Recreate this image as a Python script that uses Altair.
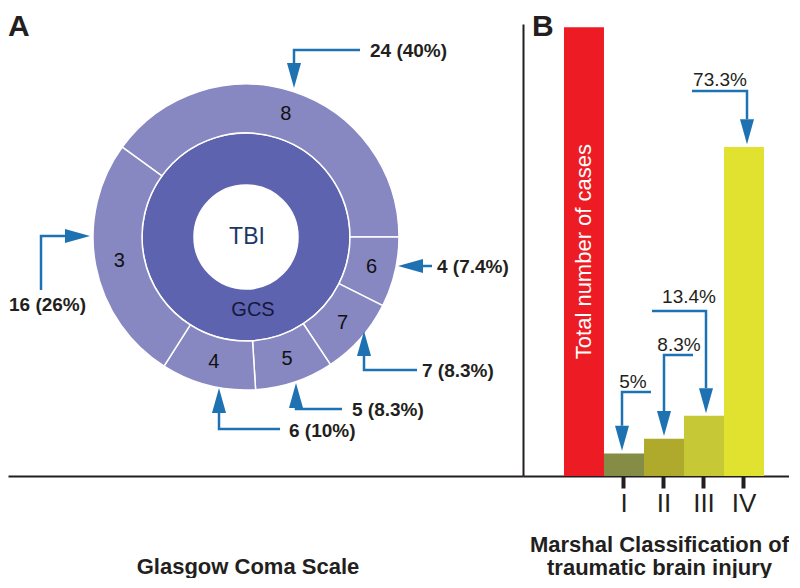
import math
import altair as alt
import pandas as pd

# ---------------- data ----------------
# Panel A: Glasgow Coma Scale (outer ring, clockwise from the top-left)
gcs_scores = ["8", "6", "7", "5", "4", "3"]
gcs_counts = [24, 4, 7, 5, 6, 16]
gcs_pct_text = ["40%", "7.4%", "8.3%", "8.3%", "10%", "26%"]
gcs_pct = [40, 7.4, 8.3, 8.3, 10, 26]

# Panel B: Marshal classification
marshal_classes = ["Total", "I", "II", "III", "IV"]
marshal_values = [100, 5, 8.3, 13.4, 73.3]
marshal_colors = ["#ED1C24", "#858C45", "#AFAA2B", "#C6C935", "#E0E22F"]
total_label = "Total number of cases"

# ---------------- styling / layout ----------------
INK = "#231F20"
BLUE = "#1F72B1"
OUTER = "#8787C1"
INNER = "#5D63AE"
FONT = "Liberation Sans"
NARROW = "Liberation Sans Narrow, Arial Narrow, Liberation Sans"

W_L, W_R, H = 515, 266, 468
CX, CY = 238, 229          # donut centre inside panel A (px)
A0 = math.radians(306)     # start angle of the outer ring
ARROW = "M0,0L-0.56,-2L0.56,-2Z"   # arrow head, tip at the origin, pointing down

# annotation geometry, panel A (px relative to donut centre)
a_paths = [
    [(114, -187), (48, -187), (48, -174)],
    [(186, 29), (177, 29)],
    [(171, 133), (118, 133), (118, 119)],
    [(96, 172), (50, 172), (50, 171)],
    [(34, 192), (-27, 192), (-27, 176)],
    [(-205, 53), (-205, -1), (-181, -1)],
]
a_tips = [(48, -149, 0), (152, 29, 90), (118, 94, 180), (50, 146, 180), (-27, 151, 180), (-156, -1, 270)]
a_label_pos = [(124, -186), (191, 30), (176, 134), (106, 173), (43, 194), (-237, 68)]

# annotation geometry, panel B (bar-index units, percent units)
b_start = [(1.675, 18.7), (2.725, 26.96), (1.7, 36.76), (2.7, 85.77)]
b_arrow_x = [0.95, 2.0, 3.05, 4.075]
b_label_pos = [(1.225, 20.9), (2.375, 29.2), (2.625, 39.88), (3.4, 88.2)]

Y_TOP = 100.7
PX_PER = (H - 16) / Y_TOP

# ---------------- panel A ----------------
xa = alt.Scale(domain=[-CX, W_L - CX], nice=False, zero=False)
ya = alt.Scale(domain=[H - CY, -CY], nice=False, zero=False)
axisA = alt.Axis(domain=True, domainColor=INK, domainWidth=2, ticks=False, labels=False,
                 grid=False, title="Glasgow Coma Scale", titleFont=FONT, titleFontSize=22,
                 titleFontWeight="bold", titleColor=INK, titleX=239.5, titleY=97,
                 titleBaseline="alphabetic", titleAlign="center")


def XA():
    return alt.X("x:Q", scale=xa, axis=axisA)


def YA():
    return alt.Y("y:Q", scale=ya, axis=None)


seg = pd.DataFrame({"score": gcs_scores, "pct": gcs_pct, "k": list(range(len(gcs_scores)))})
theta = alt.Theta("pct:Q", stack=True, scale=alt.Scale(range=[A0, A0 + 2 * math.pi]))

inner = alt.Chart(pd.DataFrame({"r": [1]})).mark_arc(
    innerRadius=52, outerRadius=104, theta=0, theta2=2 * math.pi,
    color=INNER, stroke="white", strokeWidth=1.5
).encode(x=alt.value(CX), y=alt.value(CY))

outer = alt.Chart(seg).mark_arc(
    innerRadius=104, outerRadius=153, color=OUTER, stroke="white", strokeWidth=1.5
).encode(theta=theta, order=alt.Order("k:Q"), x=alt.value(CX), y=alt.value(CY))

seg_txt = alt.Chart(seg).mark_text(
    radius=129, font=FONT, fontSize=20, color="#111111"
).encode(theta=theta, order=alt.Order("k:Q"), text="score:N", x=alt.value(CX), y=alt.value(CY))

rows = []
for i, path in enumerate(a_paths):
    for j, (px, py) in enumerate(path):
        rows.append({"id": i, "step": j, "x": px, "y": py})
a_lines = alt.Chart(pd.DataFrame(rows)).mark_line(
    color=BLUE, strokeWidth=2.5, strokeJoin="miter", strokeCap="butt"
).encode(x=XA(), y=YA(), detail="id:N", order="step:Q")

a_heads = alt.Chart(pd.DataFrame({
    "x": [t[0] for t in a_tips], "y": [t[1] for t in a_tips], "ang": [t[2] for t in a_tips]
})).mark_point(shape=ARROW, size=625, filled=True, color=BLUE, opacity=1, strokeWidth=0).encode(
    x=XA(), y=YA(), angle=alt.Angle("ang:Q", scale=None))

a_lab = alt.Chart(pd.DataFrame({
    "x": [p[0] for p in a_label_pos], "y": [p[1] for p in a_label_pos],
    "t": [f"{c} ({p})" for c, p in zip(gcs_counts, gcs_pct_text)]
})).mark_text(align="left", baseline="middle", font=FONT, fontSize=19, fontWeight="bold",
              color=INK).encode(x=XA(), y=YA(), text="t:N")

centre_txt = alt.Chart(pd.DataFrame({
    "x": [1, 7], "y": [0, 73], "t": ["TBI", "GCS"], "fs": [23, 20], "c": ["#1B3865", "#15183A"]
})).mark_text(font=FONT, baseline="middle").encode(
    x=XA(), y=YA(), text="t:N", size=alt.Size("fs:Q", scale=None),
    color=alt.Color("c:N", scale=None))

letter_a = alt.Chart(pd.DataFrame({"t": ["A"]})).mark_text(
    align="left", baseline="alphabetic", font=FONT, fontSize=30, fontWeight="bold", color=INK
).encode(x=alt.value(0), y=alt.value(28), text="t:N")

panel_a = alt.layer(inner, outer, seg_txt, a_lines, a_heads, a_lab, centre_txt, letter_a).properties(
    width=W_L, height=H)

# ---------------- panel B ----------------
bars_df = pd.DataFrame({"cat": marshal_classes, "val": marshal_values, "col": marshal_colors})
xb = alt.Scale(domain=marshal_classes, paddingInner=0, paddingOuter=0.825, align=0.621)
yb = alt.Scale(domain=[0, Y_TOP], range=[H, 16], nice=False, zero=False)
axisYB = alt.Axis(domain=True, domainColor=INK, domainWidth=2, ticks=False, labels=False,
                  grid=False, title=None, minExtent=0)
axisXB = alt.Axis(values=marshal_classes[1:], domain=True, domainColor=INK, domainWidth=2,
                  ticks=True, tickColor=INK, tickWidth=4, tickSize=12, grid=False,
                  labelAngle=0, labelFont=NARROW, labelFontSize=26, labelColor=INK,
                  labelPadding=2,
                  title=["Marshal Classification of", "traumatic brain injury"],
                  titleFont=FONT, titleFontSize=22, titleFontWeight="bold", titleColor=INK,
                  titleLineHeight=23, titleBaseline="alphabetic", titleX=136, titleY=75,
                  titleAlign="center")

bars = alt.Chart(bars_df).mark_bar(strokeWidth=0).encode(
    x=alt.X("cat:N", scale=xb, axis=axisXB),
    y=alt.Y("val:Q", scale=yb, axis=axisYB),
    color=alt.Color("col:N", scale=None))

xbl = alt.Scale(domain=[-61 / 40, (W_R - 61) / 40], nice=False, zero=False)


def XB():
    return alt.X("ax:Q", scale=xbl, axis=None)


def YB():
    return alt.Y("ay:Q", scale=yb, axis=axisYB)


tot_df = pd.DataFrame({"ax": [0], "ay": [marshal_values[0] / 2], "t": [total_label]})
tot_txt = alt.Chart(tot_df).mark_text(angle=270, align="center", baseline="middle",
                                      font=FONT, fontSize=22, color="white").encode(
    x=XB(), y=YB(), text="t:N")

rows = []
heads = []
for i in range(4):
    tip = marshal_values[i + 1] + 0.6
    base = tip + 25 / PX_PER
    sx, sy = b_start[i]
    ax = b_arrow_x[i]
    for j, (px, py) in enumerate([(sx, sy), (ax, sy), (ax, base)]):
        rows.append({"id": i, "step": j, "ax": px, "ay": py})
    heads.append({"ax": ax, "ay": tip})
b_lines = alt.Chart(pd.DataFrame(rows)).mark_line(
    color=BLUE, strokeWidth=2.5, strokeJoin="miter", strokeCap="butt"
).encode(x=XB(), y=YB(), detail="id:N", order="step:Q")
b_heads = alt.Chart(pd.DataFrame(heads)).mark_point(
    shape=ARROW, size=625, filled=True, color=BLUE, opacity=1, strokeWidth=0
).encode(x=XB(), y=YB())
b_lab = alt.Chart(pd.DataFrame({
    "ax": [p[0] for p in b_label_pos], "ay": [p[1] for p in b_label_pos],
    "t": [f"{v:g}%" for v in marshal_values[1:]]
})).mark_text(font=FONT, fontSize=19, color=INK, baseline="middle").encode(
    x=XB(), y=YB(), text="t:N")

letter_b = alt.Chart(pd.DataFrame({"t": ["B"]})).mark_text(
    align="left", baseline="alphabetic", font=FONT, fontSize=30, fontWeight="bold", color=INK
).encode(x=alt.value(9), y=alt.value(28), text="t:N")

panel_b = alt.layer(bars, tot_txt, b_lines, b_heads, b_lab, letter_b).resolve_scale(
    x="independent").properties(width=W_R, height=H)

chart = alt.hconcat(panel_a, panel_b, spacing=0).properties(padding=0).configure_view(stroke=None)

chart.save("out.html", embed_options={"renderer": "svg", "actions": False})
